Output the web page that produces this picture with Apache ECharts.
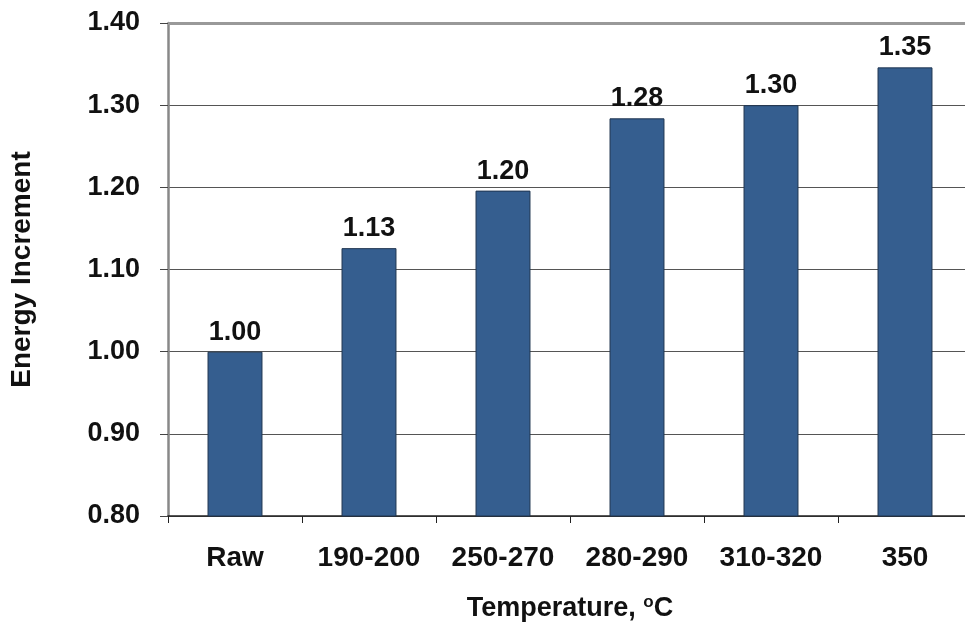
<!DOCTYPE html>
<html><head><meta charset="utf-8">
<script src="https://cdn.jsdelivr.net/npm/echarts@6/dist/echarts.min.js"></script>
<style>html,body{margin:0;padding:0;background:#fff}#c{width:965px;height:625px}</style>
</head><body><div id="c"></div>
<script>
var categories = ['Raw', '190-200', '250-270', '280-290', '310-320', '350'];
var energyIncrement = [1.00, 1.126, 1.196, 1.284, 1.30, 1.346];
var yTicks = [0.80, 0.90, 1.00, 1.10, 1.20, 1.30, 1.40];

var chart = echarts.init(document.getElementById('c'), null, {renderer: 'canvas'});
var F = 'Liberation Sans, Arial, sans-serif';
chart.setOption({
  animation: false,
  backgroundColor: '#fff',
  grid: {left: 168, top: 23, bottom: 109, right: -7, containLabel: false, outerBoundsMode: 'none'},
  xAxis: {
    type: 'category', data: categories,
    axisLine: {show: true, lineStyle: {color: '#222', width: 1.5}},
    axisTick: {show: true, length: 7, alignWithLabel: false, lineStyle: {color: '#222', width: 1}},
    axisLabel: {color: '#111', fontFamily: F, fontWeight: 'bold', fontSize: 28, margin: 28},
    name: '{t|Temperature, }{s|o}{t|C}', nameLocation: 'middle', nameGap: 78,
    nameTextStyle: {rich: {
      t: {fontFamily: F, fontWeight: 'bold', fontSize: 27, color: '#111'},
      s: {fontFamily: F, fontWeight: 'bold', fontSize: 17, color: '#111', verticalAlign: 'top', padding: [0, 0, 12, 0]}
    }}
  },
  yAxis: {
    type: 'value', min: 0.80, max: 1.40, interval: 0.10,
    axisLine: {show: true, lineStyle: {color: '#888', width: 2.5}},
    axisTick: {show: true, length: 8, lineStyle: {color: '#444', width: 1}},
    axisLabel: {color: '#111', fontFamily: F, fontWeight: 'bold', fontSize: 27, margin: 28,
      formatter: function (v) { return v.toFixed(2); }},
    splitLine: {show: true, lineStyle: {color: '#555', width: 1}},
    name: 'Energy Increment', nameLocation: 'middle', nameGap: 132, nameRotate: 90,
    nameTextStyle: {fontFamily: F, fontWeight: 'bold', fontSize: 28, color: '#111'}
  },
  series: [{
    type: 'bar', data: energyIncrement, barWidth: '41%',
    itemStyle: {color: '#355E8F', borderColor: '#1F3550', borderWidth: 1},
    label: {show: true, position: 'top', distance: 6, color: '#111', fontFamily: F, fontWeight: 'bold', fontSize: 27,
      formatter: function (p) { return p.value.toFixed(2); }},
    markLine: {silent: true, symbol: 'none', label: {show: false},
      lineStyle: {color: '#999', width: 3, type: 'solid'},
      data: [{yAxis: yTicks[yTicks.length - 1]}]}
  }]
});
</script></body></html>
